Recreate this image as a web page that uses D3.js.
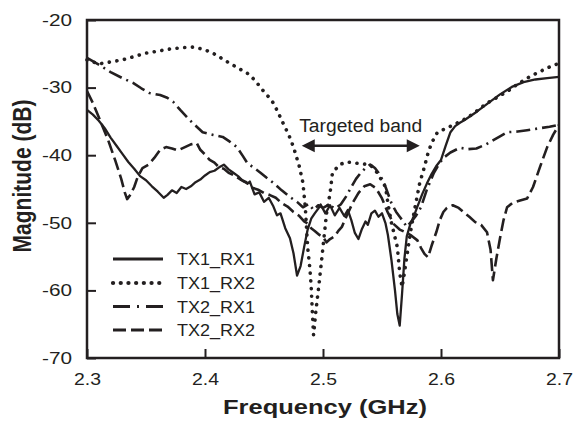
<!DOCTYPE html>
<head>
  <meta charset="utf-8">
  <script src="https://d3js.org/d3.v7.min.js"></script>
  <style>
    body { margin: 0; background: #fff; }
    text { font-family: "Liberation Sans", Arial, sans-serif; fill: #231f20; }
    .trace { fill: none; stroke: #231f20; stroke-linejoin: round; }
  </style>
</head>

<body>
  <script>
    var width = 574;
    var height = 424;

    // axis ticks
    var freqTicks = [2.3, 2.4, 2.5, 2.6, 2.7];
    var magTicks = [-70, -60, -50, -40, -30, -20];

    // [frequency GHz, magnitude dB]
    var tx1rx1 = [
      [2.300,-33.3],[2.305,-34.0],[2.310,-34.9],[2.315,-36.0],[2.320,-37.4],[2.325,-38.6],
      [2.330,-39.8],[2.335,-41.0],[2.340,-42.0],[2.345,-43.1],[2.350,-43.7],[2.355,-44.6],
      [2.360,-45.4],[2.365,-46.3],[2.368,-45.9],[2.372,-45.2],[2.376,-45.6],[2.380,-44.7],
      [2.384,-45.0],[2.388,-44.6],[2.392,-44.0],[2.396,-43.6],[2.400,-43.0],[2.404,-42.5],
      [2.408,-42.3],[2.412,-41.8],[2.416,-41.4],[2.420,-42.1],[2.424,-42.6],[2.428,-43.1],
      [2.432,-43.8],[2.436,-44.2],[2.438,-43.9],[2.442,-45.8],[2.446,-45.5],[2.450,-46.9],
      [2.454,-46.3],[2.458,-47.6],[2.461,-48.9],[2.464,-48.6],[2.468,-50.8],[2.472,-52.3],
      [2.475,-54.5],[2.478,-57.8],[2.481,-56.4],[2.484,-53.6],[2.487,-51.0],[2.490,-49.4],
      [2.493,-48.6],[2.496,-47.9],[2.498,-47.3],[2.502,-48.6],[2.506,-47.4],[2.510,-48.9],
      [2.514,-47.8],[2.518,-49.0],[2.521,-48.1],[2.524,-49.6],[2.527,-51.5],[2.530,-52.4],
      [2.533,-50.9],[2.536,-49.8],[2.538,-50.3],[2.541,-48.6],[2.544,-48.2],[2.547,-49.1],
      [2.550,-48.6],[2.553,-50.1],[2.555,-51.8],[2.558,-55.5],[2.561,-60.0],[2.563,-63.5],
      [2.565,-65.2],[2.567,-60.5],[2.569,-55.3],[2.571,-52.0],[2.574,-50.2],[2.577,-49.0],
      [2.580,-47.6],[2.584,-45.8],[2.588,-44.2],[2.592,-42.8],[2.596,-41.6],[2.600,-40.7],
      [2.604,-38.6],[2.608,-36.6],[2.612,-35.7],[2.616,-35.2],[2.620,-34.8],[2.625,-34.2],
      [2.630,-33.6],[2.640,-32.3],[2.650,-31.0],[2.660,-29.9],[2.670,-29.2],[2.680,-28.8],
      [2.690,-28.6],[2.700,-28.4]
    ];
    var tx1rx2 = [
      [2.300,-25.9],[2.310,-26.5],[2.320,-26.2],[2.330,-25.9],[2.340,-25.4],[2.350,-24.9],
      [2.360,-24.6],[2.370,-24.3],[2.380,-24.1],[2.390,-24.0],[2.400,-24.4],[2.405,-24.8],
      [2.410,-25.2],[2.417,-26.0],[2.424,-26.7],[2.431,-27.4],[2.438,-28.1],[2.444,-29.3],
      [2.449,-30.4],[2.454,-31.4],[2.458,-32.3],[2.462,-33.7],[2.466,-35.2],[2.471,-37.0],
      [2.475,-38.8],[2.480,-41.7],[2.483,-44.1],[2.485,-47.7],[2.487,-53.6],[2.489,-57.0],
      [2.490,-59.5],[2.491,-63.3],[2.492,-66.6],[2.494,-63.0],[2.497,-58.5],[2.500,-53.6],
      [2.503,-48.6],[2.506,-45.6],[2.508,-42.6],[2.514,-41.4],[2.520,-41.0],[2.529,-41.2],
      [2.540,-41.4],[2.546,-42.6],[2.553,-44.7],[2.555,-47.1],[2.558,-50.0],[2.563,-53.6],
      [2.565,-57.4],[2.567,-59.5],[2.569,-57.4],[2.571,-55.0],[2.574,-51.5],[2.578,-47.7],
      [2.582,-44.1],[2.586,-41.7],[2.589,-39.7],[2.592,-38.2],[2.597,-36.6],[2.605,-36.0],
      [2.613,-35.3],[2.622,-34.5],[2.630,-33.5],[2.639,-32.3],[2.648,-31.4],[2.656,-30.6],
      [2.664,-29.6],[2.675,-28.4],[2.690,-27.1],[2.700,-26.4]
    ];
    var tx2rx1 = [
      [2.300,-25.6],[2.310,-26.6],[2.320,-27.7],[2.330,-28.6],[2.339,-29.3],[2.346,-30.1],
      [2.353,-30.8],[2.362,-31.1],[2.368,-31.5],[2.373,-32.1],[2.379,-33.3],[2.387,-34.8],
      [2.393,-35.8],[2.398,-36.6],[2.407,-37.0],[2.415,-37.3],[2.421,-38.0],[2.427,-38.8],
      [2.432,-40.1],[2.436,-41.2],[2.441,-41.8],[2.447,-42.6],[2.452,-43.3],[2.458,-44.1],
      [2.465,-45.2],[2.472,-46.2],[2.478,-46.9],[2.483,-47.7],[2.488,-47.2],[2.492,-48.1],
      [2.496,-47.4],[2.500,-47.8],[2.505,-47.3],[2.510,-47.9],[2.515,-47.3],[2.520,-46.0],
      [2.524,-44.7],[2.528,-43.5],[2.532,-42.6],[2.536,-41.9],[2.540,-41.4],[2.544,-41.9],
      [2.547,-42.6],[2.550,-43.5],[2.553,-44.7],[2.558,-47.1],[2.562,-48.4],[2.565,-49.1],
      [2.568,-49.8],[2.571,-50.6],[2.575,-49.8],[2.579,-48.9],[2.583,-47.7],[2.588,-45.1],
      [2.594,-42.6],[2.598,-41.4],[2.602,-40.4],[2.608,-39.6],[2.616,-38.9],[2.623,-39.1],
      [2.630,-39.0],[2.637,-38.5],[2.644,-37.8],[2.650,-37.2],[2.656,-36.6],[2.665,-36.5],
      [2.673,-36.3],[2.684,-36.0],[2.692,-35.8],[2.700,-35.5]
    ];
    var tx2rx2 = [
      [2.300,-30.5],[2.305,-32.3],[2.311,-34.8],[2.318,-37.8],[2.324,-40.8],[2.329,-43.5],
      [2.332,-45.5],[2.334,-46.5],[2.337,-45.8],[2.340,-44.7],[2.343,-43.2],[2.347,-41.9],
      [2.352,-41.4],[2.357,-40.4],[2.362,-39.2],[2.367,-38.8],[2.372,-39.0],[2.377,-39.3],
      [2.383,-38.8],[2.388,-38.4],[2.393,-38.2],[2.396,-39.2],[2.400,-39.9],[2.404,-40.7],
      [2.408,-41.1],[2.412,-41.8],[2.416,-42.0],[2.420,-42.6],[2.425,-43.0],[2.430,-43.6],
      [2.435,-44.0],[2.440,-44.8],[2.445,-45.1],[2.450,-45.6],[2.455,-45.9],[2.460,-46.3],
      [2.465,-47.1],[2.470,-47.6],[2.475,-48.4],[2.480,-49.0],[2.484,-49.8],[2.487,-50.1],
      [2.490,-50.8],[2.493,-51.2],[2.497,-51.8],[2.500,-52.1],[2.503,-52.9],[2.506,-52.4],
      [2.510,-52.0],[2.513,-51.2],[2.516,-50.6],[2.520,-49.0],[2.525,-47.1],[2.530,-45.6],
      [2.535,-44.6],[2.540,-44.3],[2.545,-44.9],[2.550,-46.4],[2.555,-48.5],[2.560,-50.2],
      [2.565,-51.0],[2.570,-51.4],[2.575,-51.9],[2.580,-52.6],[2.583,-53.7],[2.586,-54.6],
      [2.589,-55.1],[2.592,-53.4],[2.596,-51.4],[2.599,-49.6],[2.602,-48.4],[2.605,-47.8],
      [2.610,-47.4],[2.615,-47.8],[2.619,-48.4],[2.624,-49.1],[2.629,-49.9],[2.634,-50.3],
      [2.639,-51.4],[2.642,-54.0],[2.644,-58.5],[2.647,-55.2],[2.650,-52.3],[2.653,-49.6],
      [2.656,-47.7],[2.661,-47.0],[2.667,-46.7],[2.673,-46.4],[2.678,-44.7],[2.684,-41.7],
      [2.690,-38.8],[2.695,-37.0],[2.700,-35.5]
    ];

    var seriesNames = ["TX1_RX1", "TX1_RX2", "TX2_RX1", "TX2_RX2"];

    // "Targeted band" arrow: ends in GHz, height in dB
    var bandEnds = [2.482, 2.582];
    var bandArrowDb = -38.6;
    var bandLabel = "Targeted band";

    var styles = {
      "TX1_RX1": { dash: null, w: 2.3, cap: "butt" },
      "TX1_RX2": { dash: "0.1 7.6", w: 3.6, cap: "round" },
      "TX2_RX1": { dash: "14 5 2 5", w: 2.6, cap: "butt" },
      "TX2_RX2": { dash: "13 5", w: 2.6, cap: "butt" }
    };
    var seriesData = { "TX1_RX1": tx1rx1, "TX1_RX2": tx1rx2, "TX2_RX1": tx2rx1, "TX2_RX2": tx2rx2 };

    var plotL = 87, plotR = 559, plotT = 20, plotB = 358;

    var x = d3.scaleLinear().domain([2.3, 2.7]).range([plotL, plotR]);
    var y = d3.scaleLinear().domain([-70, -20]).range([plotB, plotT]);

    var svg = d3.select("body").append("svg")
        .attr("width", width)
        .attr("height", height);

    var line = d3.line()
        .x(function (d) { return x(d[0]); })
        .y(function (d) { return y(d[1]); });

    var plot = svg.append("g");
    seriesNames.forEach(function (name) {
      var s = styles[name];
      plot.append("path")
        .datum(seriesData[name])
        .attr("class", "trace")
        .attr("d", line)
        .attr("stroke-width", s.w)
        .attr("stroke-linecap", s.cap)
        .attr("stroke-dasharray", s.dash);
    });

    // axes, ticks pointing inward
    var xAxis = svg.append("g")
        .attr("transform", "translate(0," + plotB + ")")
        .call(d3.axisBottom(x).tickValues(freqTicks).tickFormat(d3.format(".1f"))
          .tickSizeInner(-9).tickSizeOuter(0).tickPadding(15));
    var yAxis = svg.append("g")
        .attr("transform", "translate(" + plotL + ",0)")
        .call(d3.axisLeft(y).tickValues(magTicks).tickFormat(function (d) { return String(d); })
          .tickSizeInner(-9).tickSizeOuter(0).tickPadding(15));

    [xAxis, yAxis].forEach(function (a) {
      a.select(".domain").remove();
      a.selectAll(".tick line").attr("stroke", "#231f20").attr("stroke-width", 2);
      a.selectAll(".tick text")
        .attr("fill", "#231f20")
        .style("font-size", "16.5px")
        .style("font-family", '"Liberation Sans", Arial, sans-serif')
        .attr("lengthAdjust", "spacingAndGlyphs");
    });
    xAxis.selectAll(".tick text").attr("textLength", 27);
    yAxis.selectAll(".tick text").attr("textLength", 30);

    svg.append("rect")
      .attr("x", plotL).attr("y", plotT)
      .attr("width", plotR - plotL).attr("height", plotB - plotT)
      .attr("fill", "none").attr("stroke", "#231f20").attr("stroke-width", 2.5);

    // axis titles
    svg.append("text")
      .attr("x", (plotL + plotR) / 2 + 2).attr("y", 414)
      .attr("text-anchor", "middle")
      .style("font-weight", "bold").style("font-size", "19.5px")
      .attr("textLength", 204).attr("lengthAdjust", "spacingAndGlyphs")
      .text("Frequency (GHz)");
    svg.append("text")
      .attr("transform", "translate(31,176) scale(1.2,1) rotate(-90)")
      .attr("text-anchor", "middle")
      .style("font-weight", "bold").style("font-size", "21px")
      .text("Magnitude (dB)");

    // legend
    var legend = svg.append("g");
    var rowY = [259, 283, 306.5, 330];
    seriesNames.forEach(function (name, i) {
      var s = styles[name];
      legend.append("line")
        .attr("x1", 113).attr("x2", 163)
        .attr("y1", rowY[i]).attr("y2", rowY[i])
        .attr("stroke", "#231f20")
        .attr("stroke-width", s.w + 0.6)
        .attr("stroke-linecap", s.cap)
        .attr("stroke-dasharray", s.dash == null ? null : (name === "TX2_RX1" ? "17 7 2 7" : s.dash));
      legend.append("text")
        .attr("x", 177).attr("y", rowY[i] + 6)
        .style("font-size", "17px")
        .attr("textLength", 78).attr("lengthAdjust", "spacingAndGlyphs")
        .text(name);
    });

    // targeted band annotation
    var ay = y(bandArrowDb);
    var ax0 = x(bandEnds[0]), ax1 = x(bandEnds[1]);
    svg.append("line")
      .attr("x1", ax0 + 10).attr("x2", ax1 - 10)
      .attr("y1", ay).attr("y2", ay)
      .attr("stroke", "#231f20").attr("stroke-width", 2.5);
    svg.append("path")
      .attr("d", "M" + ax0 + "," + ay + "L" + (ax0 + 13) + "," + (ay - 6.5) + "L" + (ax0 + 13) + "," + (ay + 6.5) + "Z")
      .attr("fill", "#231f20");
    svg.append("path")
      .attr("d", "M" + ax1 + "," + ay + "L" + (ax1 - 13) + "," + (ay - 6.5) + "L" + (ax1 - 13) + "," + (ay + 6.5) + "Z")
      .attr("fill", "#231f20");
    svg.append("text")
      .attr("x", (ax0 + ax1) / 2).attr("y", ay - 14)
      .attr("text-anchor", "middle")
      .style("font-size", "18px")
      .attr("textLength", 123).attr("lengthAdjust", "spacingAndGlyphs")
      .text(bandLabel);
  </script>
</body>
